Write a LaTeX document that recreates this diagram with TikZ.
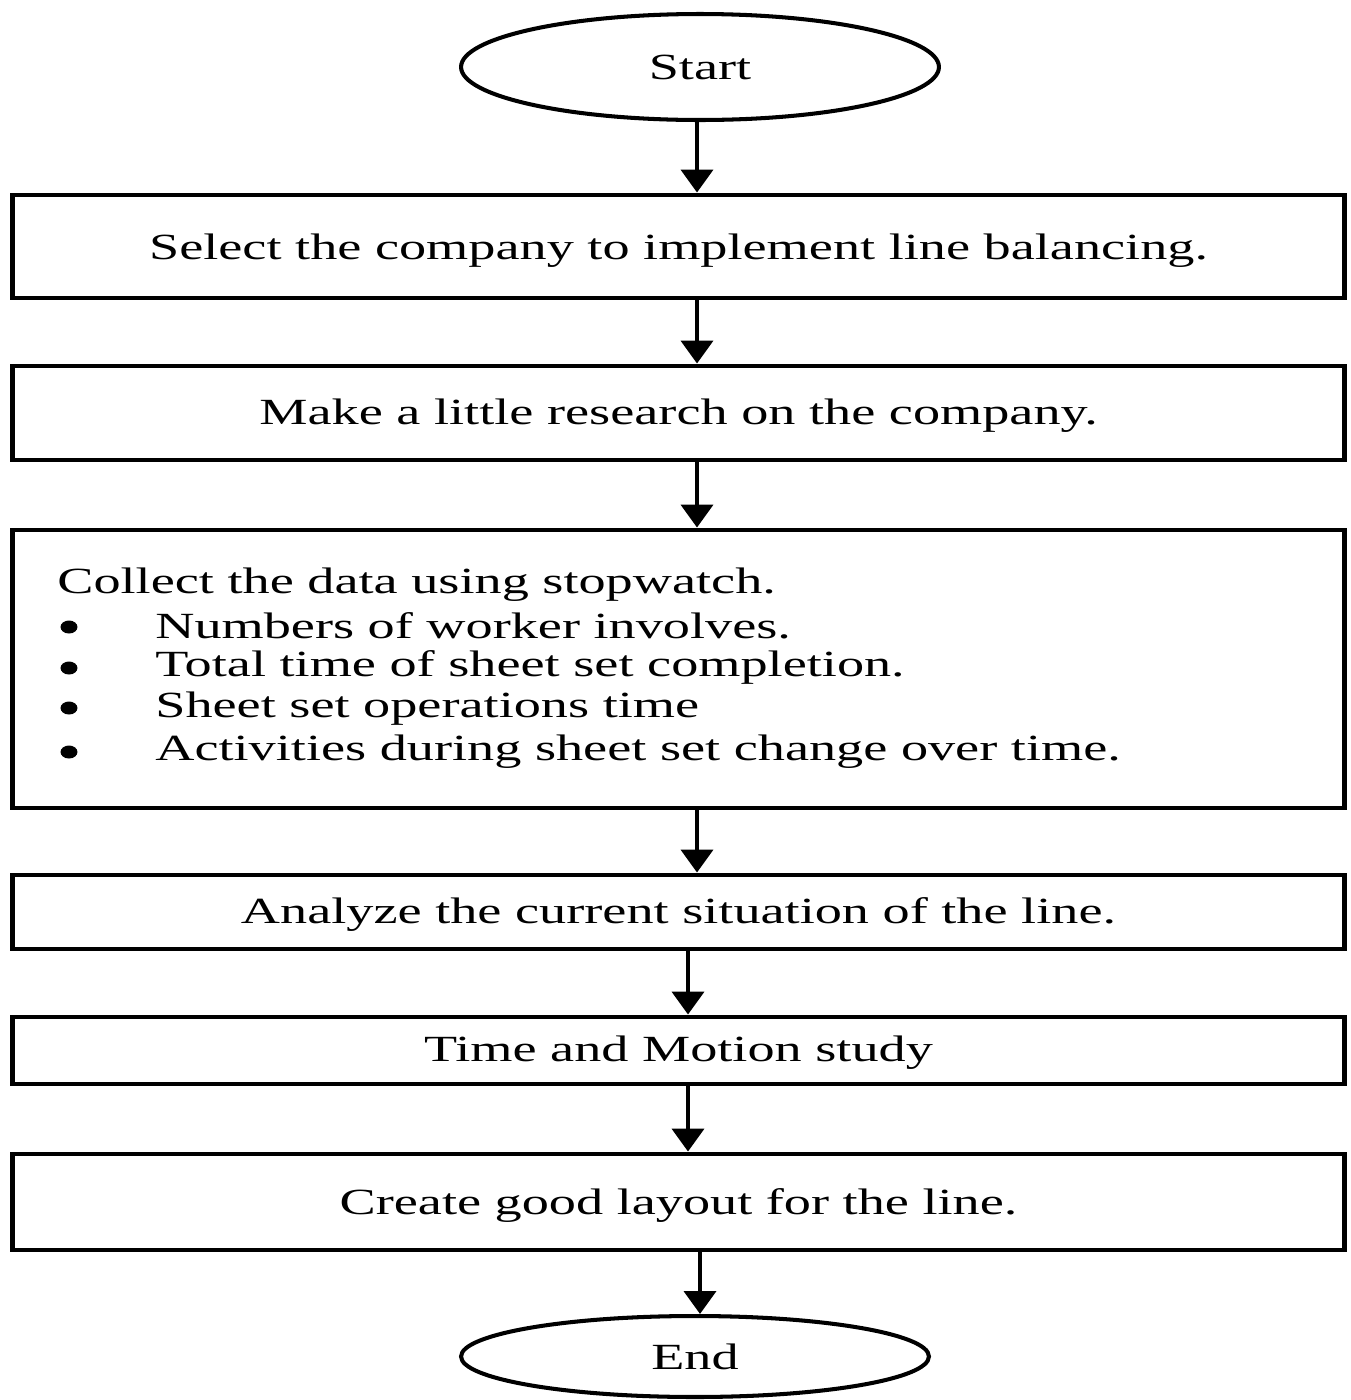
\documentclass[tikz,border=0pt]{standalone}
\usepackage{fontspec}
\setmainfont{Liberation Serif}
\usepackage{graphicx}
\usetikzlibrary{shapes.geometric,arrows.meta}
\newcommand\wtext[1]{\scalebox{1.47}[1]{#1}}
\begin{document}
\begin{tikzpicture}[x=0.02cm,y=-0.02cm,
  every node/.style={font=\fontsize{21}{25}\selectfont, inner sep=0pt},
  term/.style={draw, ellipse, line width=2.3pt},
  stepbox/.style={draw, rectangle, line width=2.8pt, minimum width=26.66cm},
  txt/.style={anchor=west},
  bul/.style={fill, ellipse, minimum width=0.34cm, minimum height=0.26cm},
  arr/.style={line width=2.6pt, -{Triangle[width=18pt,length=13pt]}}]
\useasboundingbox (0,0) rectangle (1351,1400);
\node[term, minimum width=9.56cm, minimum height=2.12cm] (start) at (700,67) {\wtext{Start}};
\node[stepbox, minimum height=2.06cm] (b1) at (678.5,246.5) {};
\node (t1) at ([yshift=-0.09cm]b1.center) {\wtext{Select the company to implement line balancing.}};
\node[stepbox, minimum height=1.88cm] (b2) at (678.5,413) {};
\node (t2) at ([yshift=-0.06cm]b2.center) {\wtext{Make a little research on the company.}};
\node[stepbox, minimum height=5.56cm] (b3) at (678.5,669) {};
\node[txt] (l0) at (57,585) {\wtext{Collect the data using stopwatch.}};
\node[bul] (d1) at (69,627) {};
\node[bul] (d2) at (69,668) {};
\node[bul] (d3) at (69,708) {};
\node[bul] (d4) at (69,752) {};
\node[txt] (l1) at (155,626) {\wtext{Numbers of worker involves.}};
\node[txt] (l2) at (155,667) {\wtext{Total time of sheet set completion.}};
\node[txt] (l3) at (155,709) {\wtext{Sheet set operations time}};
\node[txt] (l4) at (155,752) {\wtext{Activities during sheet set change over time.}};
\node[stepbox, minimum height=1.48cm] (b4) at (678.5,912) {};
\node (t4) at ([yshift=-0.04cm]b4.center) {\wtext{Analyze the current situation of the line.}};
\node[stepbox, minimum height=1.34cm] (b5) at (678.5,1050.5) {};
\node (t5) at ([yshift=-0.04cm]b5.center) {\wtext{Time and Motion study}};
\node[stepbox, minimum height=1.92cm] (b6) at (678.5,1202) {};
\node (t6) at ([yshift=-0.06cm]b6.center) {\wtext{Create good layout for the line.}};
\node[term, minimum width=9.36cm, minimum height=1.62cm] (end) at (695,1356.5) {\wtext{End}};
\coordinate (ax1) at (697,0);
\coordinate (ax2) at (688,0);
\coordinate (ax3) at (700,0);
\draw[arr] (start.south -| ax1) -- (b1.north -| ax1);
\draw[arr] (b1.south -| ax1) -- (b2.north -| ax1);
\draw[arr] (b2.south -| ax1) -- (b3.north -| ax1);
\draw[arr] (b3.south -| ax1) -- (b4.north -| ax1);
\draw[arr] (b4.south -| ax2) -- (b5.north -| ax2);
\draw[arr] (b5.south -| ax2) -- (b6.north -| ax2);
\draw[arr] (b6.south -| ax3) -- (end.north -| ax3);
\end{tikzpicture}
\end{document}
